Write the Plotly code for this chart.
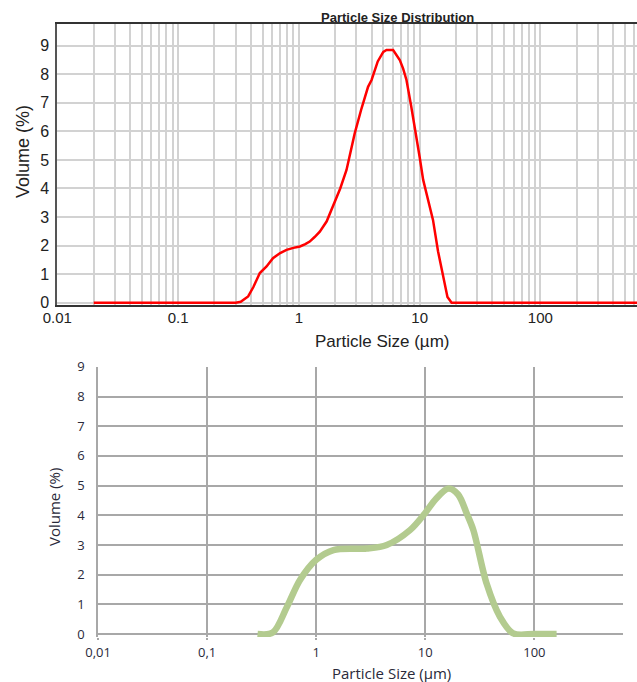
import plotly.graph_objects as go

# ---- Data: top chart (red, laser diffraction) ----
red_size = [0.02, 0.05, 0.1, 0.2, 0.3, 0.33, 0.38, 0.42, 0.475, 0.54, 0.61, 0.7, 0.79, 0.9,
            1.02, 1.13, 1.23, 1.35, 1.49, 1.7, 1.92, 2.2, 2.48, 2.9, 3.3, 3.74, 4.0, 4.5,
            5.0, 5.32, 6.03, 6.5, 6.85, 7.3, 7.78, 8.5, 9.12, 10.0, 10.7, 11.8, 12.9, 14.2,
            15.6, 17.0, 18.4, 50, 100, 200, 700]
red_volume = [0, 0, 0, 0, 0, 0.03, 0.22, 0.55, 1.04, 1.27, 1.56, 1.74, 1.85, 1.92,
              1.97, 2.05, 2.14, 2.3, 2.49, 2.85, 3.37, 4.0, 4.65, 5.93, 6.8, 7.56, 7.8, 8.45,
              8.78, 8.85, 8.85, 8.65, 8.5, 8.2, 7.8, 6.9, 6.16, 5.1, 4.3, 3.55, 2.9, 1.8,
              0.92, 0.2, 0, 0, 0, 0, 0]

# ---- Data: bottom chart (green) ----
green_size = [0.29, 0.40, 0.54, 0.71, 1.0, 1.44, 2.9, 4.43, 7.24, 9.9, 12.5, 16.3, 20.0,
              24.0, 27.6, 36.5, 48.4, 64, 100, 160]
green_volume = [0, 0.05, 0.92, 1.82, 2.5, 2.83, 2.88, 3.0, 3.5, 4.06, 4.55, 4.9, 4.7,
                4.06, 3.5, 1.7, 0.58, 0.02, 0, 0]

# ---- Tick definitions ----
top_grid_vals = [m * 10 ** e for e in range(-2, 3) for m in range(1, 10) if m * 10 ** e <= 600]
top_major = {0.01: "0.01", 0.1: "0.1", 1: "1", 10: "10", 100: "100"}
top_grid_text = [top_major.get(round(v, 6), "") for v in top_grid_vals]
y_ticks = [0, 1, 2, 3, 4, 5, 6, 7, 8, 9]

bot_x_vals = [0.01, 0.1, 1, 10, 100]
bot_x_text = ["0,01", "0,1", "1", "10", "100"]

fig = go.Figure()
fig.add_trace(go.Scatter(x=red_size, y=red_volume, mode="lines",
                         line=dict(color="#ff0000", width=2.5),
                         xaxis="x", yaxis="y", showlegend=False))
fig.add_trace(go.Scatter(x=green_size, y=green_volume, mode="lines",
                         line=dict(color="#b3cb8f", width=6.5, shape="spline", smoothing=0.9),
                         xaxis="x2", yaxis="y2", showlegend=False))

W, H = 637, 682
top_font = dict(family="Liberation Sans, Arial, sans-serif", size=15, color="#222222")
bot_font = dict(family="Open Sans, sans-serif", size=13, color="#2a2a3a")

fig.update_layout(
    width=W, height=H, autosize=False,
    margin=dict(l=0, r=0, t=0, b=0, autoexpand=False),
    paper_bgcolor="white", plot_bgcolor="white",
    xaxis=dict(
        type="log", range=[-2.0005, 2.8], domain=[57.3 / W, 1.0],
        anchor="y", tickmode="array", tickvals=top_grid_vals, ticktext=top_grid_text,
        showgrid=True, gridcolor="#d2d2d2", gridwidth=1.5,
        showline=True, linecolor="#333333", linewidth=1.5, mirror=True,
        ticks="", tickfont=dict(top_font, size=15), ticklabelstandoff=-1,
        zeroline=False, layer="below traces", automargin=False,
    ),
    yaxis=dict(
        range=[-0.07, 9.76], domain=[1 - 304.7 / H, 1 - 24 / H],
        anchor="x", tickmode="array", tickvals=y_ticks,
        showgrid=True, gridcolor="#d2d2d2", gridwidth=1.5,
        showline=True, linecolor="#555555", linewidth=2,
        ticks="", tickfont=dict(top_font, size=16), ticklabelstandoff=3,
        zeroline=False, automargin=False,
    ),
    xaxis2=dict(
        type="log", range=[-2.0005, 2.81], domain=[98 / W, 622.7 / W],
        anchor="y2", tickmode="array", tickvals=bot_x_vals, ticktext=bot_x_text,
        showgrid=True, gridcolor="#a8a8a8", gridwidth=1.5,
        showline=False, ticks="outside", ticklen=2, tickcolor="#a8a8a8", tickwidth=1.5,
        tickfont=bot_font, ticklabelstandoff=1, zeroline=False, automargin=False,
    ),
    yaxis2=dict(
        range=[-0.1, 9.005], domain=[1 - 637 / H, 1 - 366.7 / H],
        anchor="x2", tickmode="array", tickvals=y_ticks,
        showgrid=True, gridcolor="#a8a8a8", gridwidth=1.5,
        showline=True, linecolor="#a8a8a8", linewidth=1.5,
        zeroline=True, zerolinecolor="#a8a8a8", zerolinewidth=1.5,
        ticks="", tickfont=bot_font, ticklabelstandoff=9, automargin=False,
    ),
    annotations=[
        dict(text="<b>Particle Size Distribution</b>", xref="paper", yref="paper",
             x=397.5 / W, y=1 - 18 / H, xanchor="center", yanchor="middle",
             showarrow=False, font=dict(top_font, size=13)),
        dict(text="Particle Size (µm)", xref="paper", yref="paper",
             x=381.7 / W, y=1 - 341.7 / H, xanchor="center", yanchor="middle",
             showarrow=False, font=dict(top_font, size=17)),
        dict(text="Volume (%)", xref="paper", yref="paper", textangle=-90,
             x=22.5 / W, y=1 - 151.5 / H, xanchor="center", yanchor="middle",
             showarrow=False, font=dict(top_font, size=18)),
        dict(text="Particle Size (µm)", xref="paper", yref="paper",
             x=391.5 / W, y=1 - 673 / H, xanchor="center", yanchor="middle",
             showarrow=False, font=dict(bot_font, size=15)),
        dict(text="Volume (%)", xref="paper", yref="paper", textangle=-90,
             x=54 / W, y=1 - 507 / H, xanchor="center", yanchor="middle",
             showarrow=False, font=dict(bot_font, size=15)),
    ],
)

fig.write_html("out.html")
